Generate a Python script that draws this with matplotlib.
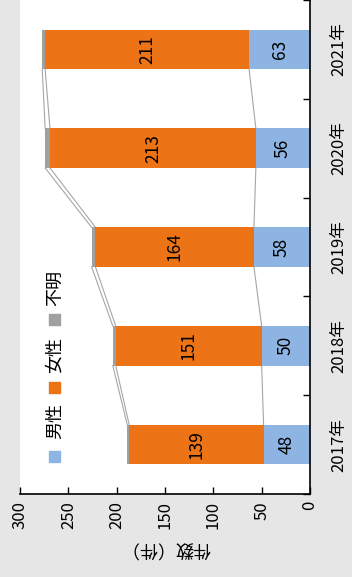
import matplotlib.pyplot as plt
import numpy as np

plt.rcParams['font.family'] = ['Noto Sans CJK JP', 'DejaVu Sans']

years = ['2017年', '2018年', '2019年', '2020年', '2021年']
male = np.array([48, 50, 58, 56, 63])
female = np.array([139, 151, 164, 213, 211])
unknown = np.array([2, 3, 4, 5, 3])
legend_labels = ['男性', '女性', '不明']
colors = ['#8db4e2', '#ec7416', '#a0a0a0']

W, H = 352, 577
fig = plt.figure(figsize=(W / 100, H / 100), dpi=100, facecolor='#e6e6e6')
ax = fig.add_axes([20 / W, 83 / H, 290 / W, 494 / H])
ax.set_facecolor('white')

y = np.arange(len(years))
bw = 0.4
series = [male, female, unknown]
left = np.zeros(len(years))
bounds = []
for vals, c in zip(series, colors):
    ax.barh(y, vals, left=left, height=bw, color=c, zorder=2)
    left = left + vals
    bounds.append(left.copy())

# data labels
for i in range(len(years)):
    ax.text(male[i] / 2, y[i], str(male[i]), rotation=90, ha='center',
            va='center', fontsize=12.5, zorder=3)
    ax.text(male[i] + female[i] / 2, y[i], str(female[i]), rotation=90,
            ha='center', va='center', fontsize=12.5, zorder=3)

# series lines
for b in bounds:
    for i in range(len(years) - 1):
        ax.plot([b[i], b[i + 1]], [y[i] + bw / 2, y[i + 1] - bw / 2],
                color='#a6a6a6', lw=0.8, zorder=1)

ax.set_xlim(300, 0)
ax.set_ylim(-0.5, len(years) - 0.5)
ax.set_xticks(np.arange(0, 301, 50))
ax.tick_params(axis='x', direction='in', length=5, width=1, pad=5,
               labelrotation=90, labelsize=12)
ax.yaxis.tick_right()
ax.set_yticks(np.arange(-0.5, len(years), 1.0))
ax.set_yticklabels([])
ax.tick_params(axis='y', direction='in', length=5, width=1)
for s in ['left', 'top']:
    ax.spines[s].set_visible(False)
ax.spines['bottom'].set_linewidth(1.2)
ax.spines['right'].set_linewidth(1.2)

ax.set_xlabel('件数（件）', rotation=180, fontsize=13, labelpad=7)

# year labels on the right
for i, lab in enumerate(years):
    ax.text(1.0 + 29 / 290, y[i], lab, rotation=90, ha='center', va='center',
            fontsize=12, transform=ax.get_yaxis_transform())

# rotated legend
legend_y = [456, 387, 319]
text_y = [421, 355, 288]
for lab, c, sy, ty in zip(legend_labels, colors, legend_y, text_y):
    fig.patches.append(plt.Rectangle((49 / W, 1 - (sy + 6) / H), 11 / W, 11 / H,
                                     color=c, transform=fig.transFigure))
    fig.text(55 / W, 1 - ty / H, lab, rotation=90, ha='center', va='center',
             fontsize=13)

fig.savefig('out.png', dpi=100, facecolor=fig.get_facecolor())
